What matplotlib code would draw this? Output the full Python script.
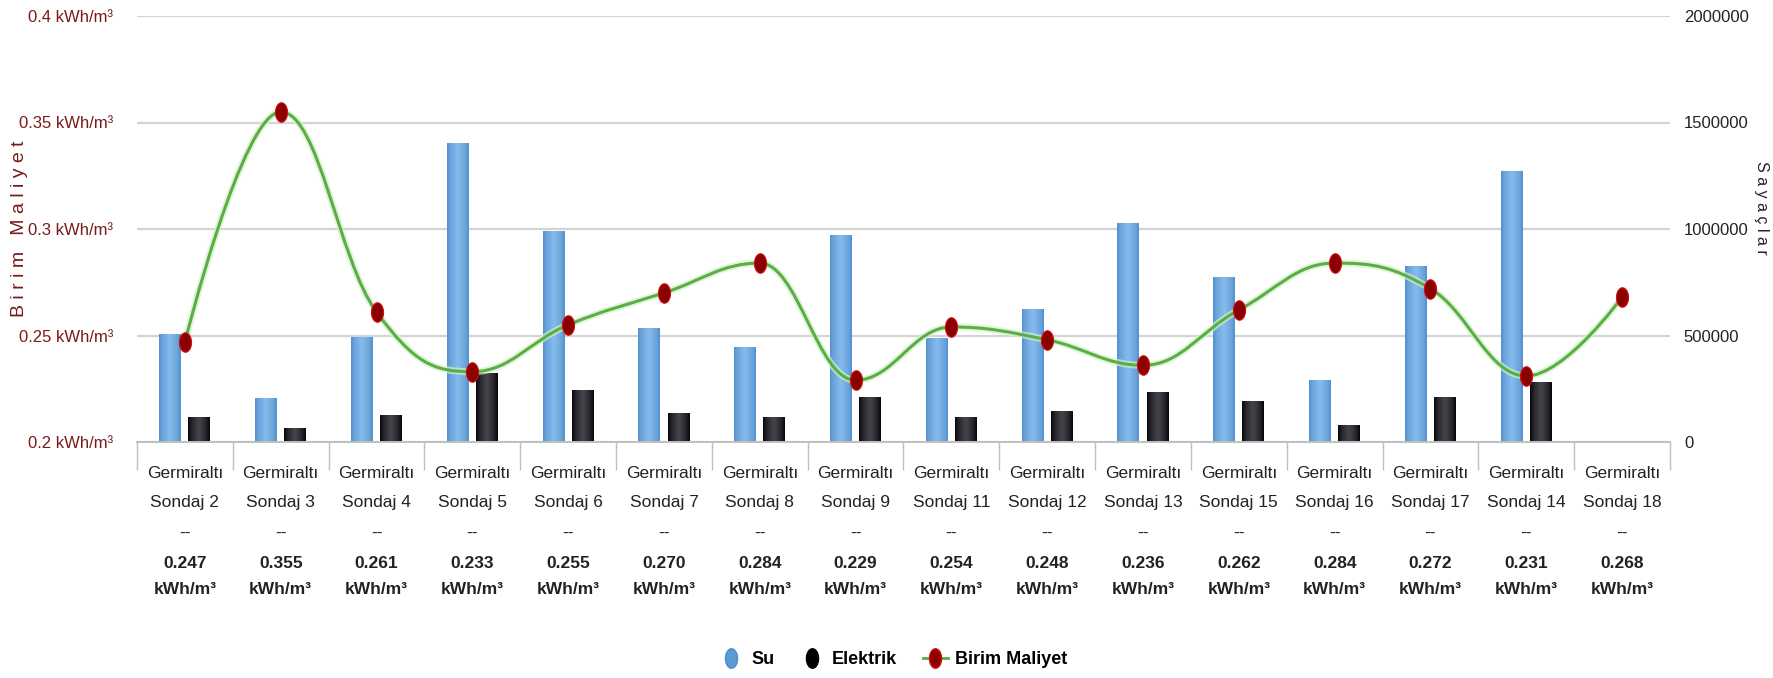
import numpy as np
from matplotlib import pyplot as plt
from matplotlib import colors as mcolors
from matplotlib.lines import Line2D
from matplotlib.path import Path
from matplotlib.patches import PathPatch
from matplotlib import transforms as mtransforms

plt.rcParams['font.family'] = ['Liberation Sans', 'DejaVu Sans']

sites = ['Sondaj 2', 'Sondaj 3', 'Sondaj 4', 'Sondaj 5', 'Sondaj 6', 'Sondaj 7',
         'Sondaj 8', 'Sondaj 9', 'Sondaj 11', 'Sondaj 12', 'Sondaj 13',
         'Sondaj 15', 'Sondaj 16', 'Sondaj 17', 'Sondaj 14', 'Sondaj 18']
su = [505000, 205000, 494000, 1402000, 991000, 537000, 447000, 972000,
      487000, 623000, 1030000, 776000, 291000, 826000, 1274000, 0]
elektrik = [116000, 67000, 127000, 322000, 244000, 138000, 119000, 213000,
            119000, 147000, 233000, 194000, 78000, 213000, 280000, 0]
birim_maliyet = [0.247, 0.355, 0.261, 0.233, 0.255, 0.270, 0.284, 0.229,
                 0.254, 0.248, 0.236, 0.262, 0.284, 0.272, 0.231, 0.268]
left_ticks = [0.2, 0.25, 0.3, 0.35, 0.4]
right_ticks = [0, 500000, 1000000, 1500000, 2000000]

W, H = 1774, 678
AX_L, AX_R, AX_T, AX_B = 137, 1670, 16, 442
DARK_RED = '#7a1a1a'
TEXT = '#222222'
GRID = '#d4d4d4'
FS = 12


def ellipse_marker(ratio=0.62):
    t = np.linspace(0, 2 * np.pi, 60)
    verts = np.column_stack([ratio * np.cos(t), np.sin(t)])
    return Path(verts, closed=True)


def spline_path(xs, ys, smoothing=1.5):
    # cubic bezier through the points, same control-point rule as a highcharts spline
    denom = smoothing + 1
    n = len(xs)
    right = [None] * n
    left = [None] * n
    for i in range(1, n - 1):
        px, py = xs[i], ys[i]
        lx, ly = xs[i - 1], ys[i - 1]
        nx, ny = xs[i + 1], ys[i + 1]
        lcx = (smoothing * px + lx) / denom
        lcy = (smoothing * py + ly) / denom
        rcx = (smoothing * px + nx) / denom
        rcy = (smoothing * py + ny) / denom
        corr = (rcy - lcy) * (rcx - px) / (rcx - lcx) + py - rcy
        lcy += corr
        rcy += corr
        if lcy > ly and lcy > py:
            lcy = max(ly, py)
            rcy = 2 * py - lcy
        elif lcy < ly and lcy < py:
            lcy = min(ly, py)
            rcy = 2 * py - lcy
        if rcy > ny and rcy > py:
            rcy = max(ny, py)
            lcy = 2 * py - rcy
        elif rcy < ny and rcy < py:
            rcy = min(ny, py)
            lcy = 2 * py - rcy
        left[i] = (lcx, lcy)
        right[i] = (rcx, rcy)
    verts = [(xs[0], ys[0])]
    codes = [Path.MOVETO]
    for i in range(1, n):
        c1 = right[i - 1] or (xs[i - 1], ys[i - 1])
        c2 = left[i] or (xs[i], ys[i])
        verts += [c1, c2, (xs[i], ys[i])]
        codes += [Path.CURVE4] * 3
    return Path(verts, codes)


def gradient_bar(ax, x, width, height, edge, mid):
    if height <= 0:
        return
    bar = ax.bar(x, height, width=width, color=edge, linewidth=0, zorder=2)[0]
    c0 = np.array(mcolors.to_rgb(edge))
    c1 = np.array(mcolors.to_rgb(mid))
    s = np.linspace(-1, 1, 64)
    w = (1 - np.abs(s)) ** 0.6
    row = c0[None, :] * (1 - w[:, None]) + c1[None, :] * w[:, None]
    img = np.repeat(row[None, :, :], 2, axis=0)
    im = ax.imshow(img, extent=[x - width / 2, x + width / 2, 0, height],
                   aspect='auto', zorder=2.5, interpolation='bicubic')
    im.set_clip_path(bar)


fig = plt.figure(figsize=(W / 100, H / 100), dpi=100)
ax_w = (AX_R - AX_L) / W
ax2 = fig.add_axes([AX_L / W, 1 - AX_B / H, ax_w, (AX_B - AX_T) / H])
ax = ax2.twinx()
ax.yaxis.set_label_position('left')
ax.yaxis.tick_left()
ax2.yaxis.set_label_position('right')
ax2.yaxis.tick_right()

x = np.arange(len(sites))
bar_w = 0.225
for i in x:
    gradient_bar(ax2, i - 0.155, bar_w, su[i], '#4f8ccc', '#86bbec')
    gradient_bar(ax2, i + 0.150, bar_w, elektrik[i], '#000000', '#45454d')

ax2.set_xlim(-0.5, len(sites) - 0.5)
ax2.set_ylim(0, 2000000)
ax2.set_yticks(right_ticks)
ax2.set_yticklabels([str(v) for v in right_ticks])
ax2.grid(axis='y', color=GRID, linewidth=1.6)
ax2.set_axisbelow(True)
ax2.set_xticks(np.arange(-0.5, len(sites)))
ax2.set_xticklabels([])
ax2.tick_params(axis='x', length=20, width=1, color='#c0c0c0')
ax2.tick_params(axis='y', length=0, pad=10, labelsize=FS, labelcolor=TEXT)
ax2.set_ylabel('S a y a ç l a r', rotation=270, fontsize=FS - 0.5, color=TEXT,
               va='center')
ax2.yaxis.set_label_coords((1762 - AX_L) / (AX_R - AX_L), 0.55)

# birim maliyet spline and markers on the left axis
path = spline_path(list(x.astype(float)), birim_maliyet)
ax.add_patch(PathPatch(path, facecolor='none', edgecolor='#d3f2cb',
                       linewidth=5, alpha=0.7, zorder=3))
ax.add_patch(PathPatch(path, facecolor='none', edgecolor='#5aae45',
                       linewidth=2.2, zorder=3.2))
ax.plot(x, birim_maliyet, linestyle='none', marker=ellipse_marker(),
        markersize=14, markerfacecolor='#8b0000', markeredgecolor='#d01010',
        markeredgewidth=0.8, zorder=4)
ax.set_ylim(0.2, 0.4)
ax.set_yticks(left_ticks)
ax.set_yticklabels([f'{v:g} kWh/m³' for v in left_ticks])
ax.tick_params(axis='y', length=0, pad=17, labelsize=FS, labelcolor=DARK_RED)
ax.set_ylabel('B i r i m   M a l i y e t', fontsize=14, color=DARK_RED,
              va='center')
ax.yaxis.set_label_coords((20 - AX_L) / (AX_R - AX_L), 0.5)

for a in (ax, ax2):
    for side in ('top', 'left', 'right'):
        a.spines[side].set_visible(False)
    a.spines['bottom'].set_color('#c0c0c0')
    a.spines['bottom'].set_linewidth(1.2)
ax.set_zorder(ax2.get_zorder() + 1)
ax.patch.set_visible(False)
ax2.set_facecolor('white')

# category labels under the axis
trans = mtransforms.blended_transform_factory(ax2.transData, fig.transFigure)
for i, (site, val) in enumerate(zip(sites, birim_maliyet)):
    for y_px, txt, weight in [(473, 'Germiraltı', 'normal'),
                              (503, site, 'normal'),
                              (533, '--', 'normal'),
                              (563, f'{val:.3f}', 'bold'),
                              (589, 'kWh/m³', 'bold')]:
        ax2.text(i, 1 - y_px / H, txt, transform=trans, ha='center',
                 va='center', fontsize=12.5, fontweight=weight, color=TEXT)

handles = [
    Line2D([], [], linestyle='none', marker=ellipse_marker(), markersize=14,
           markerfacecolor='#5b9bd5', markeredgecolor='#4f8ccc'),
    Line2D([], [], linestyle='none', marker=ellipse_marker(), markersize=14,
           markerfacecolor='#000000', markeredgecolor='#000000'),
    Line2D([], [], color='#5aae45', linewidth=2, marker=ellipse_marker(),
           markersize=14, markerfacecolor='#8b0000', markeredgecolor='#d01010'),
]
fig.legend(handles, ['Su', 'Elektrik', 'Birim Maliyet'], loc='center',
           bbox_to_anchor=(893 / W, 1 - 660 / H), ncol=3, frameon=False,
           prop={'size': 13, 'weight': 'bold'}, handlelength=1.4,
           columnspacing=1.4, handletextpad=0.4)

fig.savefig('out.png', dpi=100)
